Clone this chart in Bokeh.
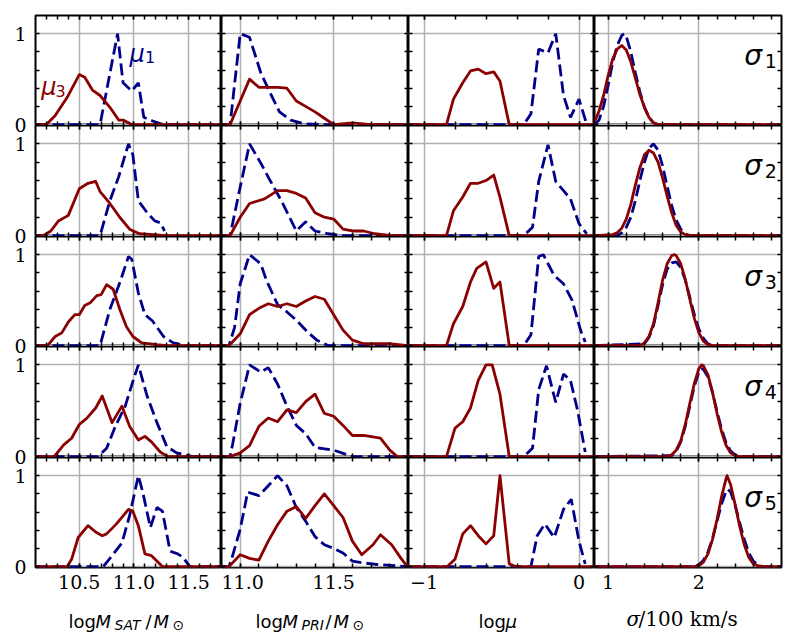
import numpy as np
from bokeh.plotting import figure
from bokeh.models import (Range1d, FixedTicker, LinearAxis, Label, GridPlot,
                          CustomLabelingPolicy)
from bokeh.embed import file_html
from bokeh.resources import INLINE

# ---------------------------------------------------------------------------
# Normalised distributions for the five velocity-dispersion bins (sigma_1..5).
# mu_1 : dashed navy curves, mu_3 : solid dark-red curves.
# Each *_X / *_Y is a list of five curves, one per sigma bin (top to bottom).
# ---------------------------------------------------------------------------

# log M_SAT / M_sun
MSAT_MU1_X = [
    [10.1, 10.69, 10.85, 10.9, 10.98, 11.04, 11.09, 11.17, 11.24, 11.3, 11.8],
    [10.1, 10.69, 10.78, 10.86, 10.95, 10.99, 11.04, 11.12, 11.19, 11.24, 11.28],
    [10.1, 10.69, 10.78, 10.87, 10.95, 10.98, 11.04, 11.1, 11.17, 11.27, 11.36, 11.48, 11.8],
    [10.1, 10.67, 10.75, 10.83, 10.92, 10.99, 11.04, 11.12, 11.21, 11.3, 11.39, 11.54, 11.8],
    [10.1, 10.72, 10.8, 10.89, 10.96, 11.04, 11.08, 11.15, 11.21, 11.26, 11.33, 11.4, 11.45, 11.51, 11.8],
]
MSAT_MU1_Y = [
    [0, 0, 1.0, 0.46, 0.37, 0.46, 0.08, 0.04, 0.01, 0, 0],
    [0, 0, 0.38, 0.64, 1.0, 0.88, 0.38, 0.25, 0.16, 0.14, 0.05],
    [0, 0, 0.4, 0.69, 0.98, 0.95, 0.58, 0.34, 0.27, 0.1, 0.03, 0, 0],
    [0, 0, 0.09, 0.33, 0.55, 0.82, 1.0, 0.66, 0.37, 0.11, 0.04, 0, 0],
    [0, 0, 0.12, 0.26, 0.56, 1.0, 0.82, 0.43, 0.65, 0.61, 0.17, 0.14, 0.1, 0, 0],
]
MSAT_MU3_X = [
    [10.1, 10.2, 10.28, 10.39, 10.5, 10.55, 10.62, 10.69, 10.78, 10.86, 10.9, 10.98, 11.8],
    [10.1, 10.17, 10.24, 10.31, 10.4, 10.5, 10.58, 10.65, 10.69, 10.78, 10.87, 10.96, 11.05, 11.3, 11.8],
    [10.1, 10.21, 10.28, 10.34, 10.4, 10.46, 10.5, 10.55, 10.6, 10.66, 10.7, 10.75, 10.81, 10.87,
     10.93, 10.99, 11.07, 11.21, 11.3, 11.8],
    [10.1, 10.27, 10.36, 10.43, 10.5, 10.57, 10.65, 10.71, 10.8, 10.89, 10.96, 11.04, 11.1, 11.16,
     11.24, 11.31, 11.8],
    [10.1, 10.39, 10.43, 10.49, 10.58, 10.65, 10.71, 10.75, 10.84, 10.95, 10.99, 11.04, 11.1, 11.16,
     11.26, 11.8],
]
MSAT_MU3_Y = [
    [0, 0, 0.1, 0.3, 0.55, 0.52, 0.38, 0.32, 0.19, 0.05, 0.05, 0, 0],
    [0, 0, 0.05, 0.16, 0.22, 0.51, 0.57, 0.59, 0.48, 0.35, 0.2, 0.07, 0.02, 0, 0],
    [0, 0, 0.1, 0.14, 0.26, 0.34, 0.34, 0.44, 0.47, 0.55, 0.56, 0.67, 0.62, 0.4, 0.21, 0.1, 0.03, 0.01, 0, 0],
    [0, 0, 0.13, 0.2, 0.35, 0.42, 0.53, 0.66, 0.37, 0.55, 0.33, 0.18, 0.22, 0.16, 0.05, 0, 0],
    [0, 0, 0.08, 0.32, 0.45, 0.38, 0.34, 0.36, 0.47, 0.63, 0.61, 0.45, 0.14, 0.12, 0, 0],
]

# log M_PRI / M_sun
MPRI_MU1_X = [
    [10.9, 10.946, 11.0, 11.05, 11.11, 11.16, 11.21, 11.27, 11.34, 11.45, 11.9],
    [10.9, 10.946, 11.0, 11.05, 11.11, 11.16, 11.22, 11.3, 11.35, 11.4, 11.47, 11.55, 11.9],
    [10.9, 10.94, 10.97, 11.0, 11.05, 11.11, 11.14, 11.2, 11.25, 11.3, 11.36, 11.41, 11.47, 11.9],
    [10.9, 10.946, 10.96, 11.0, 11.05, 11.11, 11.15, 11.2, 11.25, 11.3, 11.35, 11.4, 11.5, 11.6, 11.9],
    [10.9, 10.94, 10.955, 11.0, 11.04, 11.1, 11.15, 11.2, 11.25, 11.3, 11.35, 11.4, 11.45, 11.5,
     11.55, 11.6, 11.66, 11.75, 11.9],
]
MPRI_MU1_Y = [
    [0, 0, 1.0, 0.96, 0.57, 0.35, 0.14, 0.05, 0.01, 0, 0],
    [0, 0, 0.53, 1.0, 0.79, 0.6, 0.38, 0.05, 0.15, 0.05, 0.02, 0, 0],
    [0, 0, 0.2, 0.68, 1.0, 0.9, 0.72, 0.45, 0.37, 0.28, 0.15, 0.06, 0, 0],
    [0, 0, 0.14, 0.58, 1.0, 0.92, 0.97, 0.79, 0.55, 0.34, 0.25, 0.1, 0.07, 0, 0],
    [0, 0, 0.09, 0.41, 0.82, 0.78, 0.89, 1.0, 0.89, 0.65, 0.5, 0.33, 0.24, 0.2, 0.15, 0.06, 0.04, 0.02, 0],
]
MPRI_MU3_X = [
    [10.9, 10.946, 11.0, 11.05, 11.1, 11.2, 11.25, 11.3, 11.35, 11.4, 11.45, 11.5, 11.6, 11.7, 11.9],
    [10.9, 10.946, 11.0, 11.05, 11.13, 11.2, 11.25, 11.3, 11.35, 11.4, 11.45, 11.5, 11.55, 11.6,
     11.66, 11.72, 11.81, 11.9],
    [10.9, 10.94, 11.0, 11.05, 11.1, 11.15, 11.2, 11.25, 11.3, 11.35, 11.4, 11.45, 11.5, 11.55,
     11.6, 11.66, 11.81, 11.9],
    [10.9, 10.946, 11.0, 11.05, 11.1, 11.15, 11.2, 11.25, 11.3, 11.35, 11.4, 11.45, 11.5, 11.55,
     11.6, 11.66, 11.75, 11.8, 11.84, 11.9],
    [10.9, 10.94, 11.0, 11.05, 11.1, 11.15, 11.2, 11.25, 11.3, 11.35, 11.4, 11.45, 11.5, 11.55,
     11.6, 11.65, 11.71, 11.75, 11.81, 11.86, 11.89, 11.9],
]
MPRI_MU3_Y = [
    [0, 0, 0.26, 0.5, 0.41, 0.41, 0.4, 0.26, 0.2, 0.14, 0.07, 0, 0.02, 0, 0],
    [0, 0, 0.2, 0.35, 0.4, 0.49, 0.49, 0.46, 0.41, 0.25, 0.2, 0.18, 0.07, 0.05, 0.05, 0.02, 0, 0],
    [0, 0, 0.13, 0.34, 0.41, 0.46, 0.43, 0.46, 0.43, 0.49, 0.54, 0.51, 0.34, 0.17, 0.06, 0.02, 0.02, 0],
    [0, 0, 0.04, 0.12, 0.33, 0.42, 0.38, 0.51, 0.48, 0.6, 0.68, 0.47, 0.44, 0.34, 0.23, 0.23, 0.2,
     0.07, 0, 0],
    [0, 0, 0.13, 0.09, 0.07, 0.28, 0.46, 0.61, 0.66, 0.53, 0.67, 0.8, 0.67, 0.54, 0.28, 0.13, 0.24,
     0.35, 0.24, 0.09, 0.01, 0],
]

# log mu
LOGMU_MU1_X = [
    [-1.1, -0.356, -0.31, -0.26, -0.2, -0.15, -0.1, -0.055, 0.0, 0.05],
    [-1.1, -0.356, -0.3, -0.26, -0.2, -0.15, -0.1, -0.055, 0.0, 0.05],
    [-1.1, -0.356, -0.31, -0.26, -0.23, -0.16, -0.1, -0.045, 0.01, 0.04],
    [-1.1, -0.356, -0.3, -0.26, -0.21, -0.15, -0.1, -0.055, -0.01, 0.04],
    [-1.1, -0.31, -0.27, -0.22, -0.16, -0.1, -0.05, 0.0, 0.04],
]
LOGMU_MU1_Y = [
    [0, 0, 0.12, 0.83, 0.79, 1.0, 0.32, 0.08, 0.28, 0],
    [0, 0, 0.09, 0.59, 0.99, 0.59, 0.49, 0.4, 0.13, 0.02],
    [0, 0, 0.12, 0.98, 1.0, 0.77, 0.68, 0.5, 0.17, 0.04],
    [0, 0, 0.09, 0.73, 0.99, 0.59, 0.9, 0.83, 0.51, 0.05],
    [0, 0, 0.34, 0.47, 0.32, 0.63, 0.74, 0.28, 0.03],
]
LOGMU_MU3_X = [
    [-1.1, -0.855, -0.81, -0.75, -0.7, -0.65, -0.6, -0.55, -0.51, -0.45, 0.1],
    [-1.1, -0.855, -0.81, -0.75, -0.7, -0.65, -0.6, -0.55, -0.51, -0.45, 0.1],
    [-1.1, -0.855, -0.81, -0.75, -0.7, -0.66, -0.6, -0.55, -0.51, -0.45, 0.1],
    [-1.1, -0.855, -0.8, -0.75, -0.7, -0.65, -0.6, -0.56, -0.51, -0.45, 0.1],
    [-1.1, -0.85, -0.8, -0.75, -0.7, -0.65, -0.6, -0.55, -0.51, -0.45, -0.41, 0.1],
]
LOGMU_MU3_Y = [
    [0, 0, 0.28, 0.46, 0.59, 0.61, 0.56, 0.58, 0.48, 0, 0],
    [0, 0, 0.27, 0.42, 0.57, 0.57, 0.6, 0.66, 0.42, 0, 0],
    [0, 0, 0.24, 0.43, 0.7, 0.85, 0.92, 0.63, 0.7, 0, 0],
    [0, 0, 0.31, 0.38, 0.53, 0.83, 1.0, 1.0, 0.68, 0, 0],
    [0, 0, 0.08, 0.36, 0.45, 0.34, 0.25, 0.34, 1.0, 0.03, 0, 0],
]

# sigma / 100 km/s
SIGMA_MU1_X = [
    [0.85, 0.9, 0.95, 1.0, 1.05, 1.1, 1.15, 1.18, 1.2, 1.25, 1.3, 1.35, 1.4, 1.45, 1.5, 1.55, 2.91],
    [0.85, 1.1, 1.15, 1.2, 1.25, 1.3, 1.35, 1.4, 1.45, 1.5, 1.55, 1.6, 1.65, 1.7, 1.75, 1.8, 1.85, 1.9, 2.91],
    [0.85, 1.4, 1.45, 1.5, 1.55, 1.6, 1.65, 1.7, 1.75, 1.8, 1.85, 1.9, 1.95, 2.0, 2.05, 2.1, 2.15, 2.91],
    [0.85, 1.7, 1.75, 1.8, 1.85, 1.9, 1.95, 2.0, 2.03, 2.05, 2.1, 2.15, 2.2, 2.25, 2.3, 2.35, 2.4, 2.45, 2.91],
    [0.85, 1.95, 2.0, 2.05, 2.1, 2.15, 2.2, 2.25, 2.3, 2.32, 2.35, 2.4, 2.45, 2.5, 2.55, 2.6, 2.65, 2.7, 2.91],
]
SIGMA_MU1_Y = [
    [0, 0.05, 0.2, 0.43, 0.68, 0.87, 0.98, 1.0, 0.97, 0.8, 0.57, 0.36, 0.19, 0.08, 0.02, 0, 0],
    [0, 0, 0.03, 0.09, 0.2, 0.38, 0.6, 0.8, 0.95, 1.0, 0.93, 0.76, 0.54, 0.33, 0.17, 0.07, 0.02, 0, 0],
    [0, 0.02, 0.09, 0.22, 0.44, 0.67, 0.84, 0.91, 0.92, 0.86, 0.72, 0.53, 0.34, 0.18, 0.08, 0.02, 0, 0],
    [0, 0.01, 0.06, 0.16, 0.33, 0.55, 0.77, 0.92, 0.96, 0.95, 0.87, 0.7, 0.49, 0.3, 0.15, 0.06, 0.02, 0, 0],
    [0, 0, 0.02, 0.07, 0.16, 0.31, 0.5, 0.69, 0.83, 0.85, 0.82, 0.67, 0.48, 0.3, 0.15, 0.06, 0.02, 0, 0],
]
SIGMA_MU3_X = [
    [0.85, 0.9, 0.95, 1.0, 1.05, 1.1, 1.15, 1.2, 1.25, 1.3, 1.35, 1.4, 1.45, 1.5, 1.55, 2.91],
    [0.85, 1.05, 1.1, 1.15, 1.2, 1.25, 1.3, 1.35, 1.4, 1.45, 1.5, 1.55, 1.6, 1.65, 1.7, 1.75, 1.8,
     1.85, 1.9, 2.91],
    [0.85, 1.35, 1.4, 1.45, 1.5, 1.55, 1.6, 1.65, 1.7, 1.73, 1.75, 1.8, 1.85, 1.9, 1.95, 2.0, 2.05,
     2.1, 2.15, 2.91],
    [0.85, 1.65, 1.7, 1.75, 1.8, 1.85, 1.9, 1.95, 2.0, 2.03, 2.05, 2.1, 2.15, 2.2, 2.25, 2.3, 2.35,
     2.4, 2.45, 2.91],
    [0.85, 1.95, 2.0, 2.05, 2.1, 2.15, 2.2, 2.25, 2.3, 2.31, 2.35, 2.4, 2.45, 2.5, 2.55, 2.6, 2.65, 2.7, 2.91],
]
SIGMA_MU3_Y = [
    [0.03, 0.15, 0.32, 0.54, 0.72, 0.83, 0.87, 0.82, 0.69, 0.51, 0.33, 0.19, 0.08, 0.02, 0, 0],
    [0, 0.01, 0.03, 0.08, 0.18, 0.34, 0.55, 0.74, 0.88, 0.93, 0.9, 0.8, 0.63, 0.43, 0.25, 0.11, 0.04, 0.01, 0, 0],
    [0, 0, 0.03, 0.1, 0.24, 0.47, 0.72, 0.9, 0.99, 1.0, 0.99, 0.9, 0.73, 0.51, 0.3, 0.14, 0.05, 0.01, 0, 0],
    [0, 0, 0.02, 0.07, 0.17, 0.35, 0.58, 0.8, 0.96, 1.0, 0.99, 0.89, 0.7, 0.47, 0.27, 0.12, 0.04, 0.01, 0, 0],
    [0, 0, 0.01, 0.05, 0.14, 0.3, 0.52, 0.77, 0.97, 1.0, 0.9, 0.68, 0.44, 0.24, 0.1, 0.03, 0.01, 0, 0],
]

SERIES = [
    (MSAT_MU1_X, MSAT_MU1_Y, MSAT_MU3_X, MSAT_MU3_Y),
    (MPRI_MU1_X, MPRI_MU1_Y, MPRI_MU3_X, MPRI_MU3_Y),
    (LOGMU_MU1_X, LOGMU_MU1_Y, LOGMU_MU3_X, LOGMU_MU3_Y),
    (SIGMA_MU1_X, SIGMA_MU1_Y, SIGMA_MU3_X, SIGMA_MU3_Y),
]

# axis ranges and ticks per column
XLIM = [(10.1, 11.8), (10.9, 11.9), (-1.1, 0.1), (0.85, 2.91)]
YLIM = (-0.01, 1.2)
XMAJOR = [[10.5, 11.0, 11.5], [11.0, 11.5], [-1.0, 0.0], [1.0, 2.0]]
XMINOR = [
    [round(v, 2) for v in np.arange(10.2, 11.75, 0.1)],
    [round(v, 2) for v in np.arange(10.9, 11.95, 0.1)],
    [round(v, 2) for v in np.arange(-1.0, 0.05, 0.2)],
    [round(v, 2) for v in np.arange(1.0, 2.95, 0.2)],
]
XTICK_LABELS = [
    {10.5: "10.5", 11.0: "11.0", 11.5: "11.5"},
    {11.0: "11.0", 11.5: "11.5"},
    {-1.0: "\u22121", 0.0: "0"},
    {1.0: "1", 2.0: "2"},
]
YMAJOR = [0, 1]
YMINOR = [0.2, 0.4, 0.6, 0.8]
SIGMA_NAMES = ["1", "2", "3", "4", "5"]

# layout in pixels
COL_W = [186, 187, 186, 187]
ROW_H = [110, 111, 110, 111, 110]
LABEL_STRIP_W = 34          # strip holding the y tick labels
TOP_PAD, RIGHT_PAD = 15, 14
TICK_BAND = 40              # space for x tick labels under the last row
TITLE_BAND = 37             # space for the x-axis titles

BLUE = "#00008b"
RED = "#8b0000"
GRID = "#b0b0b0"
SANS = "DejaVu Sans"
SERIF = "DejaVu Serif"
LINE_W = 2.8

# x-axis titles, assembled from pieces: (text, x offset from panel left,
# baseline depth below the panels, font size, style, font)
AXIS_TITLES = [
    [("log", 33, 53.5, 18, "normal", SANS), ("M", 60, 53.5, 18, "italic", SANS),
     ("SAT", 79, 57.5, 14, "italic", SANS), ("/", 110, 53.5, 18, "normal", SANS),
     ("M", 118, 53.5, 18, "italic", SANS), ("\u2299", 137, 57.5, 14, "normal", SANS)],
    [("log", 34, 53.5, 18, "normal", SANS), ("M", 61, 53.5, 18, "italic", SANS),
     ("PRI", 80, 57.5, 14, "italic", SANS), ("/", 104, 53.5, 18, "normal", SANS),
     ("M", 112, 53.5, 18, "italic", SANS), ("\u2299", 131, 57.5, 14, "normal", SANS)],
    [("log", 70, 53.5, 18, "normal", SANS), ("\u03bc", 97, 53.5, 18, "italic", SANS)],
    [("\u03c3", 32, 51.5, 20, "italic", SERIF), ("/100 km/s", 44, 51.5, 20, "normal", SERIF)],
]

HIDE_LABELS = CustomLabelingPolicy(code="for (const i of indices) indices.unset(i); return indices")


def style_axis(ax, show_labels):
    ax.axis_line_color = None
    ax.major_tick_in, ax.major_tick_out = 4, 0
    ax.minor_tick_in, ax.minor_tick_out = 4, 0
    ax.major_tick_line_color = "black"
    ax.minor_tick_line_color = "black"
    ax.major_tick_line_width = 1.5
    ax.minor_tick_line_width = 1.5
    if show_labels:
        ax.major_label_text_font = SERIF
        ax.major_label_text_font_size = "19px"
        ax.major_label_text_color = "black"
        ax.major_label_standoff = 7
    else:
        ax.major_label_text_font_size = "0px"
        ax.major_label_standoff = 0
        ax.major_label_policy = HIDE_LABELS


def make_panel(r, c):
    p = figure(frame_width=COL_W[c], frame_height=ROW_H[r],
               x_range=Range1d(*XLIM[c]), y_range=Range1d(*YLIM),
               output_backend="svg", toolbar_location=None,
               min_border_left=1 if c == 0 else 0,
               min_border_right=RIGHT_PAD if c == 3 else 0,
               min_border_top=TOP_PAD if r == 0 else 0,
               min_border_bottom=TICK_BAND if r == 4 else 0,
               background_fill_color="white", border_fill_color="white",
               outline_line_color="black", outline_line_width=2, outline_line_alpha=1)

    xt = FixedTicker(ticks=XMAJOR[c], minor_ticks=XMINOR[c])
    yt = FixedTicker(ticks=YMAJOR, minor_ticks=YMINOR)

    bottom = p.below[0]
    left = p.left[0]
    bottom.ticker = xt
    left.ticker = yt
    bottom.major_label_overrides = XTICK_LABELS[c]
    top = LinearAxis(ticker=xt)
    right = LinearAxis(ticker=yt)
    p.add_layout(top, "above")
    p.add_layout(right, "right")
    style_axis(bottom, r == 4)
    style_axis(left, False)
    style_axis(top, False)
    style_axis(right, False)

    p.xgrid.ticker = FixedTicker(ticks=XMAJOR[c])
    p.ygrid.ticker = FixedTicker(ticks=YMAJOR)
    p.grid.grid_line_color = GRID
    p.grid.grid_line_width = 1.5

    mu1_x, mu1_y, mu3_x, mu3_y = SERIES[c]
    p.line(mu1_x[r], mu1_y[r], line_color=BLUE, line_width=LINE_W, line_dash="12 5")
    p.line(mu3_x[r], mu3_y[r], line_color=RED, line_width=LINE_W, line_join="round")

    if c == 3:
        p.add_layout(Label(x=2.5, y=0.76, text="\u03c3", text_font=SANS, text_font_style="italic",
                           text_font_size="28px", text_color="black", text_baseline="alphabetic"))
        p.add_layout(Label(x=2.725, y=0.705, text=SIGMA_NAMES[r], text_font=SANS,
                           text_font_size="19px", text_color="black", text_baseline="alphabetic"))

    if r == 0 and c == 0:
        p.add_layout(Label(x=10.96, y=0.78, text="\u03bc", text_font=SANS, text_font_style="italic",
                           text_font_size="24px", text_color=BLUE, text_baseline="alphabetic"))
        p.add_layout(Label(x=11.1, y=0.74, text="1", text_font=SANS,
                           text_font_size="16px", text_color=BLUE, text_baseline="alphabetic"))
        p.add_layout(Label(x=10.152, y=0.41, text="\u03bc", text_font=SANS, text_font_style="italic",
                           text_font_size="24px", text_color=RED, text_baseline="alphabetic"))
        p.add_layout(Label(x=10.282, y=0.374, text="3", text_font=SANS,
                           text_font_size="16px", text_color=RED, text_baseline="alphabetic"))
    return p


def make_ylabel_strip():
    """One tall axis carrying the 0 / 1 labels of every row, so labels that sit
    on a row boundary are not cut by the panel edges."""
    total = sum(ROW_H)
    ticks, labels = [], {}
    top = 0
    for h in ROW_H:
        for v in YMAJOR:
            t = top + (YLIM[1] - v) / (YLIM[1] - YLIM[0]) * h
            ticks.append(t)
            labels[t] = str(v)
        top += h
    p = figure(frame_width=1, frame_height=total,
               x_range=Range1d(0, 1), y_range=Range1d(total, 0),
               output_backend="svg", toolbar_location=None,
               x_axis_location=None, y_axis_location="left",
               min_border_left=LABEL_STRIP_W - 1, min_border_right=0,
               min_border_top=TOP_PAD, min_border_bottom=TICK_BAND,
               background_fill_color="white", border_fill_color="white",
               outline_line_color=None)
    ax = p.left[0]
    ax.ticker = FixedTicker(ticks=ticks, minor_ticks=[])
    ax.major_label_overrides = labels
    ax.axis_line_color = None
    ax.major_tick_in = ax.major_tick_out = 0
    ax.minor_tick_in = ax.minor_tick_out = 0
    ax.major_label_text_font = SERIF
    ax.major_label_text_font_size = "19px"
    ax.major_label_text_color = "black"
    ax.major_label_standoff = 7
    p.grid.visible = False
    return p


def make_title(c):
    span = XLIM[c][1] - XLIM[c][0]
    p = figure(frame_width=COL_W[c], frame_height=TITLE_BAND,
               x_range=Range1d(*XLIM[c]), y_range=Range1d(-TITLE_BAND, 0),
               output_backend="svg", toolbar_location=None,
               x_axis_location=None, y_axis_location=None,
               min_border_left=1 if c == 0 else 0,
               min_border_right=RIGHT_PAD if c == 3 else 0,
               min_border_top=0, min_border_bottom=0,
               background_fill_color="white", border_fill_color="white",
               outline_line_color=None)
    p.grid.visible = False
    for text, dx, depth, size, style, font in AXIS_TITLES[c]:
        p.add_layout(Label(x=XLIM[c][0] + dx * span / COL_W[c], y=-(depth - TICK_BAND),
                           text=text, text_font=font, text_font_style=style,
                           text_font_size=f"{size}px", text_color="black",
                           text_baseline="alphabetic", text_align="left"))
    return p


children = [(make_ylabel_strip(), 0, 0, 5, 1)]
for r in range(5):
    for c in range(4):
        children.append((make_panel(r, c), r, c + 1))
for c in range(4):
    children.append((make_title(c), 5, c + 1))

grid = GridPlot(children=children, toolbar_location=None)

open("out.html", "w").write(file_html(grid, INLINE))
